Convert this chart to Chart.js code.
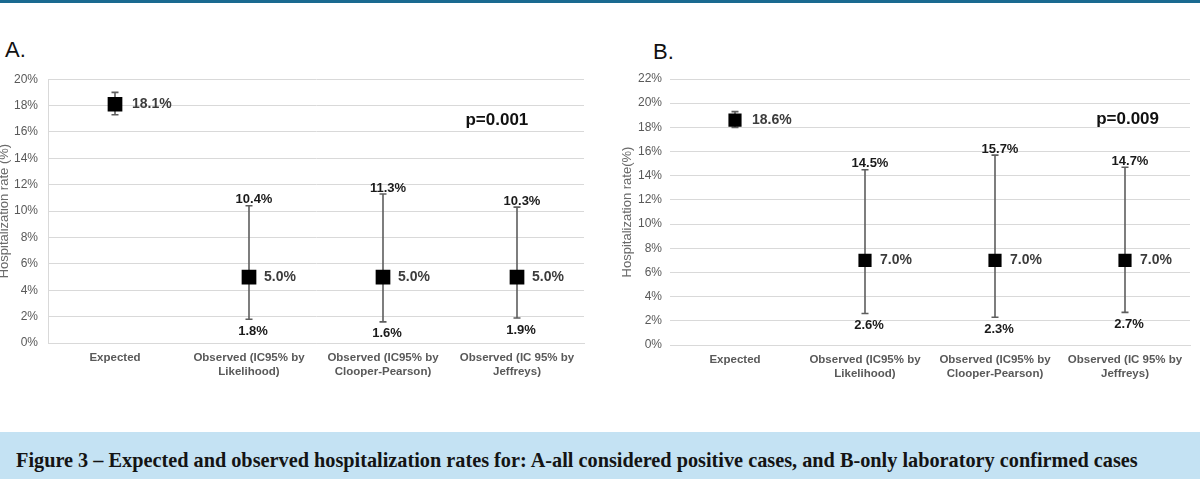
<!DOCTYPE html>
<html>
<head>
<meta charset="utf-8">
<script src="https://cdn.jsdelivr.net/npm/chart.js@4.4.1/dist/chart.umd.min.js"></script>
<style>
  html,body{margin:0;padding:0;background:#fff;}
  body{width:1200px;height:479px;position:relative;overflow:hidden;font-family:"Liberation Sans",Arial,sans-serif;}
  #topline{position:absolute;left:0;top:0;width:1200px;height:3px;background:#1a6a90;}
  .panel{position:absolute;font-size:22px;line-height:22px;color:#111;}
  #wrapA{position:absolute;left:-3px;top:62px;width:598px;height:330px;}
  #wrapB{position:absolute;left:610px;top:62px;width:590px;height:332px;}
  #capbar{position:absolute;left:0;top:432px;width:1200px;height:47px;background:#c4e2f3;}
  #cap{position:absolute;left:16px;top:452px;line-height:17px;font-family:"Liberation Serif","Times New Roman",serif;font-weight:bold;color:#141414;white-space:nowrap;}
</style>
</head>
<body>
<div id="topline"></div>
<div class="panel" style="left:5px;top:39px;">A.</div>
<div class="panel" style="left:653px;top:41px;">B.</div>
<div id="wrapA"><canvas id="chartA" width="598" height="330"></canvas></div>
<div id="wrapB"><canvas id="chartB" width="590" height="332"></canvas></div>
<div id="capbar"></div>
<div id="cap">Figure 3 – Expected and observed hospitalization rates for: A-all considered positive cases, and B-only laboratory confirmed cases</div>
<script>
// ---- data ----
const categories = ["Expected", ["Observed (IC95% by", "Likelihood)"], ["Observed (IC95% by", "Clooper-Pearson)"], ["Observed (IC 95% by", "Jeffreys)"]];
const ratesA = [18.1, 5.0, 5.0, 5.0];
const lowerA = [17.3, 1.8, 1.6, 1.9];
const upperA = [19.0, 10.4, 11.3, 10.3];
const ratesB = [18.6, 7.0, 7.0, 7.0];
const lowerB = [18.0, 2.6, 2.3, 2.7];
const upperB = [19.3, 14.5, 15.7, 14.7];
const showCiLabels = [false, true, true, true];
const yMaxA = 20;
const yMaxB = 22;
const yStep = 2;
const titleA = "Hospitalization rate (%)";
const titleB = "Hospitalization rate(%)";
const pTextA = "p=0.001";
const pTextB = "p=0.009";
// p annotation anchor (category index, value)
const pPosA = [2.85, 16.9];
const pPosB = [3.02, 18.7];

function fmt(v){ return v.toFixed(1) + '%'; }

function ciPlugin(rates, lower, upper, pText, pPos){
  return {
    id: 'ciBars',
    beforeDatasetsDraw(chart){
      const {ctx, scales:{x, y}} = chart;
      ctx.save();
      ctx.strokeStyle = '#5e5e5e';
      ctx.lineWidth = 1.6;
      rates.forEach((r, i) => {
        const px = x.getPixelForValue(i);
        const yt = y.getPixelForValue(upper[i]);
        const yb = y.getPixelForValue(lower[i]);
        ctx.beginPath();
        ctx.moveTo(px, yt); ctx.lineTo(px, yb);
        ctx.moveTo(px - 3.5, yt); ctx.lineTo(px + 3.5, yt);
        ctx.moveTo(px - 3.5, yb); ctx.lineTo(px + 3.5, yb);
        ctx.stroke();
      });
      ctx.restore();
    },
    afterDatasetsDraw(chart){
      const {ctx, scales:{x, y}} = chart;
      ctx.save();
      ctx.textBaseline = 'middle';
      rates.forEach((r, i) => {
        const px = x.getPixelForValue(i);
        const pm = y.getPixelForValue(r);
        ctx.font = 'bold 14px "Liberation Sans", Arial, sans-serif';
        ctx.fillStyle = '#3c3c3c';
        ctx.textAlign = 'left';
        ctx.fillText(fmt(r), px + (i === 0 ? 17 : 15), pm);
        if (showCiLabels[i]) {
          const yt = y.getPixelForValue(upper[i]);
          const yb = y.getPixelForValue(lower[i]);
          ctx.font = 'bold 13px "Liberation Sans", Arial, sans-serif';
          ctx.fillStyle = '#1a1a1a';
          ctx.textAlign = 'center';
          ctx.fillText(fmt(upper[i]), px + 5, yt - 6);
          ctx.fillText(fmt(lower[i]), px + 4, yb + 12);
        }
      });
      ctx.font = 'bold 17px "Liberation Sans", Arial, sans-serif';
      ctx.fillStyle = '#111';
      ctx.textAlign = 'center';
      ctx.fillText(pText, x.getPixelForValue(pPos[0]), y.getPixelForValue(pPos[1]));
      ctx.restore();
    }
  };
}

function makeChart(id, rates, lower, upper, yMax, title, pText, pPos, opt){
  return new Chart(document.getElementById(id), {
    type: 'line',
    data: {
      labels: categories,
      datasets: [{
        data: rates,
        showLine: false,
        pointStyle: 'rect',
        pointRadius: opt.radius,
        pointHoverRadius: opt.radius,
        pointBackgroundColor: '#000',
        pointBorderColor: '#000',
        pointBorderWidth: 0,
        borderColor: '#000',
        backgroundColor: '#000'
      }]
    },
    options: {
      responsive: false,
      animation: false,
      events: [],
      layout: { padding: { top: opt.padTop, right: opt.padRight, left: 0, bottom: 0 } },
      plugins: { legend: { display: false }, tooltip: { enabled: false } },
      scales: {
        x: {
          offset: true,
          grid: { display: false, drawTicks: false },
          border: { display: true, color: '#d9d9d9' },
          ticks: {
            autoSkip: false, maxRotation: 0, minRotation: 0, padding: 8,
            color: '#595959',
            font: { family: '"Liberation Sans", Arial, sans-serif', size: 11.5, weight: 'bold' }
          },
          afterFit(s){ s.height = opt.xHeight; }
        },
        y: {
          min: 0, max: yMax,
          ticks: {
            stepSize: yStep, padding: opt.tickPad,
            color: '#595959',
            font: { family: '"Liberation Sans", Arial, sans-serif', size: 12 },
            callback: v => v + '%'
          },
          grid: { color: '#d9d9d9', lineWidth: 1, drawTicks: false },
          border: { display: opt.leftBorder, color: '#d9d9d9' },
          title: {
            display: true, text: title, color: '#6a6a6a',
            padding: { top: opt.titlePad, bottom: 0 },
            font: { family: '"Liberation Sans", Arial, sans-serif', size: 13 }
          },
          afterFit(s){ s.width = opt.yWidth; }
        }
      }
    },
    plugins: [ciPlugin(rates, lower, upper, pText, pPos)]
  });
}

makeChart('chartA', ratesA, lowerA, upperA, yMaxA, titleA, pTextA, pPosA,
  { radius: 10.4, padTop: 15, padRight: 11, xHeight: 49, yWidth: 51, tickPad: 10, titlePad: 0, leftBorder: true });
makeChart('chartB', ratesB, lowerB, upperB, yMaxB, titleB, pTextB, pPosB,
  { radius: 9.3, padTop: 17, padRight: 10, xHeight: 49, yWidth: 60, tickPad: 8, titlePad: 10, leftBorder: false });

// fit caption width to the reference's text extent
(function(){
  const cap = document.getElementById('cap');
  cap.style.fontSize = '16px';
  const w = cap.getBoundingClientRect().width;
  const target = 1122;
  cap.style.fontSize = (16 * target / w).toFixed(2) + 'px';
})();
</script>
</body>
</html>
